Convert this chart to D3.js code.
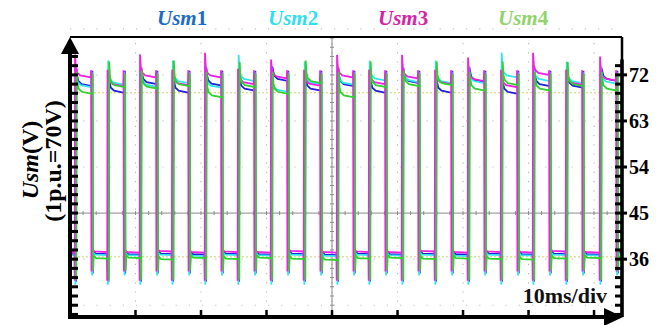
<!DOCTYPE html>
<html lang="en">
<head>
<meta charset="UTF-8">
<title>Usm waveforms</title>
<script src="https://d3js.org/d3.v7.min.js"></script>
<style>
  body { margin: 0; background: #fff; }
  svg text { font-family: "Times New Roman", "Liberation Serif", serif; font-weight: bold; }
</style>
</head>
<body>
<svg id="chart" width="670" height="325"></svg>
<script>
// ---- data ----
const seriesNames = ["Usm1", "Usm2", "Usm3", "Usm4"];
const yTickLabels = [72, 63, 54, 45, 36];
const timePerDiv = 10; // ms

// rising edge of each pulse (ms)
const pulseStart = [0.92, 5.88, 10.84, 15.75, 20.76, 25.8, 30.84, 35.88, 40.92,
                    45.8, 50.84, 55.88, 60.92, 65.95, 70.84, 75.88, 81.07];
const pulseWidth = 2.45;

// high plateau (V) per pulse
const usm1High = [69.8, 68.5, 70.2, 68.5, 69.9, 68.9, 70.8, 68.9, 69.8, 68.5, 70.4, 68.5, 70.6, 68.3, 69.8, 69.5, 70.8];
const usm2High = [69.6, 70.1, 69.7, 70.4, 69.5, 70.8, 68.7, 70.2, 70.1, 70.9, 70.6, 70.4, 70.4, 71.5, 70.8, 70.4, 70.3];
const usm3High = [71.5, 69.8, 71.5, 70.0, 71.5, 70.2, 71.3, 69.9, 71.5, 70.2, 71.3, 70.2, 70.8, 69.6, 72.0, 70.1, 70.9];
const usm4High = [68.3, 69.6, 69.3, 69.8, 67.6, 69.6, 68.3, 70.4, 67.6, 69.6, 69.8, 70.0, 68.9, 70.0, 68.9, 69.8, 68.9];

// overshoot at rising edge (V) per pulse
const usm1Spike = [73.4, 72.5, 73.4, 72.5, 73.4, 72.6, 73.6, 72.5, 73.4, 72.5, 73.4, 72.5, 73.5, 72.5, 73.4, 72.6, 73.4];
const usm2Spike = [73.6, 74.8, 73.5, 74.8, 73.6, 75.9, 73.4, 74.6, 73.6, 74.8, 73.6, 74.8, 73.6, 76.3, 73.8, 74.6, 73.6];
const usm3Spike = [76.0, 73.0, 76.0, 73.0, 76.3, 73.2, 75.0, 73.0, 75.9, 73.0, 75.9, 73.0, 75.4, 73.0, 76.3, 73.0, 75.6];
const usm4Spike = [72.6, 74.6, 72.8, 74.8, 72.6, 74.5, 72.6, 74.8, 72.6, 74.6, 72.8, 74.6, 72.6, 74.6, 72.6, 74.5, 72.6];

// low plateau (V) after each pulse
const usm1Low = [37.0, 36.9, 37.0, 36.9, 37.0, 36.9, 37.0, 36.8, 37.0, 36.9, 37.0, 36.9, 37.0, 36.9, 37.0, 36.9, 37.0];
const usm2Low = [36.8, 36.7, 36.8, 36.6, 36.8, 36.7, 36.8, 36.6, 36.8, 36.7, 36.8, 36.6, 36.8, 36.7, 36.8, 36.7, 36.8];
const usm3Low = [37.4, 37.3, 37.5, 37.3, 37.4, 37.3, 37.5, 37.3, 37.4, 37.3, 37.5, 37.3, 37.4, 37.3, 37.5, 37.3, 37.4];
const usm4Low = [36.1, 36.2, 35.9, 36.2, 36.0, 36.2, 36.0, 35.8, 36.1, 36.2, 36.0, 36.1, 36.0, 35.9, 36.1, 36.2, 36.0];

// edge transients per series (V) and small time skew (ms)
const riseDip  = [31.6, 31.0, 31.8, 32.0];
const fallPeak = [72.8, 72.6, 72.9, 72.2];
const fallDip  = [33.2, 32.8, 33.6, 33.8];
const edgeShift = [0.05, -0.05, -0.15, 0.1];
// settle shape after the rising edge: [ms after edge, V above plateau]
const highShape = [[0.12, 2.0], [0.3, 1.0], [0.8, 0.4], [2.4, 0]];

// yellow reference cursors (V)
const cursorLevels = [68.5, 36.45];

const highs = [usm1High, usm2High, usm3High, usm4High];
const spikes = [usm1Spike, usm2Spike, usm3Spike, usm4Spike];
const lows = [usm1Low, usm2Low, usm3Low, usm4Low];

const lineColors = ["#2222dd", "#33e4f0", "#ee22e0", "#30d030"];
const legendColors = ["#1b6cc6", "#30e0ee", "#d424a6", "#90d46a"];

// ---- layout ----
const svg = d3.select("#chart");
const pL = 70, pR = 622, pT = 37, pB = 317;

const x = d3.scaleLinear().domain([0, 84.27]).range([pL, pR]);
const y = d3.scaleLinear().domain([24.7, 79.4]).range([pB, pT]);

svg.append("defs").append("clipPath").attr("id", "plotclip")
  .append("rect").attr("x", pL).attr("y", pT).attr("width", pR - pL).attr("height", pB - pT);

// grid
const grid = svg.append("g");
const divTicks = d3.range(timePerDiv, 84, timePerDiv);
grid.selectAll("line.vg").data(divTicks).enter().append("line")
  .attr("x1", d => x(d)).attr("x2", d => x(d))
  .attr("y1", pT + 6).attr("y2", pB)
  .attr("stroke", "#b8b8b8").attr("stroke-width", 1.2)
  .attr("stroke-dasharray", "1.2,8");
const hDiv = [81, 72, 63, 54, 36, 27];
grid.selectAll("line.hg").data(hDiv).enter().append("line")
  .attr("x1", pL).attr("x2", pR)
  .attr("y1", d => y(d)).attr("y2", d => y(d))
  .attr("stroke", "#c4c4c4").attr("stroke-width", 1.2)
  .attr("stroke-dasharray", "1.2,12");

// center cross
grid.append("line").attr("x1", pL).attr("x2", pR).attr("y1", y(45)).attr("y2", y(45))
  .attr("stroke", "#8a8a8a").attr("stroke-width", 1);
grid.append("line").attr("x1", x(40)).attr("x2", x(40)).attr("y1", pT).attr("y2", pB)
  .attr("stroke", "#8a8a8a").attr("stroke-width", 1);
grid.selectAll("line.cx").data(d3.range(2, 84, 2)).enter().append("line")
  .attr("x1", d => x(d)).attr("x2", d => x(d))
  .attr("y1", y(45) - 2).attr("y2", y(45) + 2)
  .attr("stroke", "#8a8a8a");
grid.selectAll("line.cy").data(d3.range(27, 80, 1.8)).enter().append("line")
  .attr("x1", x(40) - 2).attr("x2", x(40) + 2)
  .attr("y1", d => y(d)).attr("y2", d => y(d))
  .attr("stroke", "#8a8a8a");

// yellow cursors
grid.selectAll("line.cur").data(cursorLevels).enter().append("line")
  .attr("x1", pL).attr("x2", pR)
  .attr("y1", d => y(d)).attr("y2", d => y(d))
  .attr("stroke", "#cfcf6a").attr("stroke-width", 1)
  .attr("stroke-dasharray", "2,2");

// waveforms
function buildWave(s) {
  const hi = highs[s], sp = spikes[s], lo = lows[s], sh = edgeShift[s];
  const pts = [[0, lo[0]]];
  let prevLow = lo[0];
  pulseStart.forEach((p, k) => {
    const t0 = p + sh;
    pts.push([t0 - 0.1, prevLow]);
    pts.push([t0 - 0.05, riseDip[s]]);
    pts.push([t0, sp[k]]);
    highShape.forEach(h => pts.push([t0 + h[0], hi[k] + h[1]]));
    const tf = t0 + pulseWidth;
    pts.push([tf, fallPeak[s]]);
    pts.push([tf + 0.05, fallDip[s]]);
    pts.push([tf + 0.15, lo[k] + 0.6]);
    pts.push([tf + 0.5, lo[k] + 0.1]);
    prevLow = lo[k];
  });
  pts.push([84.27, prevLow]);
  return pts;
}

const line = d3.line().x(d => x(d[0])).y(d => y(d[1]));
const waves = svg.append("g").attr("clip-path", "url(#plotclip)");
seriesNames.forEach((name, s) => {
  waves.append("path")
    .datum(buildWave(s))
    .attr("d", line)
    .attr("fill", "none")
    .attr("stroke", lineColors[s])
    .attr("stroke-width", 1.8)
    .attr("stroke-linejoin", "miter");
});

// frame
const frame = svg.append("g");
frame.append("line").attr("x1", pL).attr("x2", pR).attr("y1", pT).attr("y2", pT)
  .attr("stroke", "#000").attr("stroke-width", 2);
frame.append("line").attr("x1", pR).attr("x2", pR).attr("y1", pT).attr("y2", pB)
  .attr("stroke", "#000").attr("stroke-width", 2.5);

// left axis with dense ticks and arrow
const minorTicks = d3.range(45, 76, 1.8).concat(d3.range(45 - 1.8, 25, -1.8));
frame.append("line").attr("x1", pL).attr("x2", pL).attr("y1", pB + 2).attr("y2", pT + 10)
  .attr("stroke", "#000").attr("stroke-width", 4);
frame.selectAll("line.lt").data(minorTicks).enter().append("line")
  .attr("x1", pL - 2).attr("x2", pL + 8)
  .attr("y1", d => y(d)).attr("y2", d => y(d))
  .attr("stroke", "#000").attr("stroke-width", 3);
frame.append("path")
  .attr("d", `M${pL},${pT} L${pL - 9},${pT + 17} L${pL + 9},${pT + 17} Z`)
  .attr("fill", "#000");

// right axis ticks
frame.append("line").attr("x1", pR).attr("x2", pR).attr("y1", y(75)).attr("y2", pB)
  .attr("stroke", "#000").attr("stroke-width", 3.5);
frame.selectAll("line.rt").data(minorTicks.filter(d => d <= 75.5)).enter().append("line")
  .attr("x1", pR - 7).attr("x2", pR + 1)
  .attr("y1", d => y(d)).attr("y2", d => y(d))
  .attr("stroke", "#000").attr("stroke-width", 3);
frame.selectAll("line.rmaj").data(yTickLabels).enter().append("line")
  .attr("x1", pR).attr("x2", pR + 5)
  .attr("y1", d => y(d)).attr("y2", d => y(d))
  .attr("stroke", "#000").attr("stroke-width", 3);
frame.selectAll("text.ylab").data(yTickLabels).enter().append("text")
  .attr("x", pR + 7).attr("y", d => y(d) + 7)
  .attr("font-size", 20).attr("fill", "#000")
  .text(d => d);

// bottom axis with arrow
frame.append("line").attr("x1", pL - 2).attr("x2", pR - 12).attr("y1", pB).attr("y2", pB)
  .attr("stroke", "#000").attr("stroke-width", 4);
frame.selectAll("line.bt").data(d3.range(timePerDiv, 84, timePerDiv)).enter().append("line")
  .attr("x1", d => x(d)).attr("x2", d => x(d))
  .attr("y1", pB).attr("y2", pB - 7)
  .attr("stroke", "#000").attr("stroke-width", 2.5);
frame.append("path")
  .attr("d", `M${pR + 1},${pB} L${pR - 18},${pB - 9} L${pR - 18},${pB + 9} Z`)
  .attr("fill", "#000");

frame.append("text").attr("x", 607).attr("y", 303).attr("text-anchor", "end")
  .attr("font-size", 22).attr("fill", "#111").text(timePerDiv + "ms/div");

// legend
const legendX = [157, 268, 378, 498];
seriesNames.forEach((name, s) => {
  const t = svg.append("text").attr("x", legendX[s]).attr("y", 25)
    .attr("font-size", 21).attr("fill", legendColors[s]);
  t.append("tspan").attr("font-style", "italic").text(name.slice(0, 3));
  t.append("tspan").text(name.slice(3));
});

// y title
const t1 = svg.append("text").attr("transform", "translate(38,160) rotate(-90)")
  .attr("text-anchor", "middle").attr("font-size", 24).attr("fill", "#000");
t1.append("tspan").attr("font-style", "italic").text("Usm");
t1.append("tspan").text("(V)");
svg.append("text").attr("transform", "translate(61,161) rotate(-90)")
  .attr("text-anchor", "middle").attr("font-size", 24).attr("fill", "#000")
  .text("(1p.u.=70V)");
</script>
</body>
</html>
